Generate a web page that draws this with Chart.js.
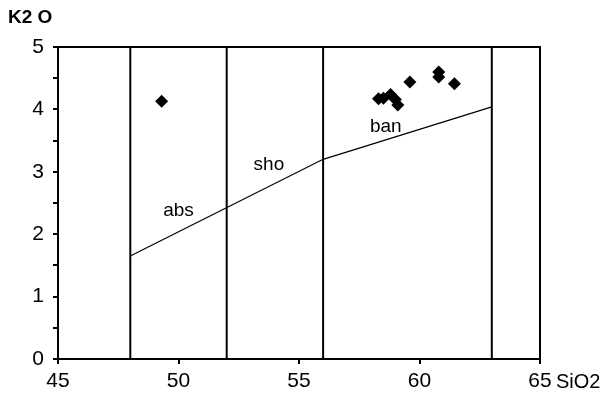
<!DOCTYPE html>
<html>
<head>
<meta charset="utf-8">
<script src="https://cdn.jsdelivr.net/npm/chart.js@4/dist/chart.umd.min.js"></script>
<style>
html,body{margin:0;padding:0;background:#fff;}
#wrap{width:609px;height:396px;position:relative;}
</style>
</head>
<body>
<div id="wrap"><canvas id="c" width="609" height="396"></canvas></div>
<script>
// Sample data (SiO2 vs K2O)
const sio2 = [49.3, 58.3, 58.5, 58.8, 59.0, 59.1, 59.6, 60.8, 60.8, 61.45];
const k2o  = [4.13, 4.17, 4.18, 4.24, 4.16, 4.07, 4.44, 4.60, 4.52, 4.41];

// Field boundaries
const verticalX = [48, 52, 56, 63];
const boundaryX = [48, 56, 63];
const boundaryY = [1.65, 3.2, 4.04];

// Field names
const fieldNames = ['abs', 'sho', 'ban'];
const fieldX = [50.0, 53.75, 58.6];
const fieldY = [2.38, 3.12, 3.72];

const xTicks = [45, 50, 55, 60, 65];
const yTicks = [0, 1, 2, 3, 4, 5];

const FONT = 'Liberation Sans, Arial, sans-serif';

const datasets = [];
verticalX.forEach(v => datasets.push({
  type: 'line', data: [{x: v, y: 0}, {x: v, y: 5}],
  borderColor: '#000', borderWidth: 2, pointRadius: 0, fill: false
}));
datasets.push({
  type: 'line', data: boundaryX.map((x, i) => ({x, y: boundaryY[i]})),
  borderColor: '#000', borderWidth: 1.2, pointRadius: 0, fill: false, tension: 0
});
datasets.push({
  type: 'scatter', data: sio2.map((x, i) => ({x, y: k2o[i]})),
  pointStyle: 'rectRot', pointRadius: 6.5, backgroundColor: '#000', borderColor: '#000', borderWidth: 0
});

const extras = {
  id: 'extras',
  afterDraw(chart) {
    const {ctx, chartArea: a, scales} = chart;
    ctx.save();
    ctx.strokeStyle = '#000';
    ctx.lineWidth = 2;
    ctx.beginPath();
    ctx.moveTo(a.left, a.top); ctx.lineTo(a.right, a.top); ctx.lineTo(a.right, a.bottom);
    ctx.stroke();
    ctx.fillStyle = '#000';
    ctx.font = '19px ' + FONT;
    ctx.textAlign = 'center';
    ctx.textBaseline = 'middle';
    fieldNames.forEach((t, i) => {
      ctx.fillText(t, scales.x.getPixelForValue(fieldX[i]), scales.y.getPixelForValue(fieldY[i]));
    });
    ctx.textAlign = 'left';
    ctx.font = '20px ' + FONT;
    ctx.fillText('SiO2', 556, 382);
    ctx.font = 'bold 19px ' + FONT;
    ctx.fillText('K2 O', 8, 18);
    ctx.restore();
  }
};

new Chart(document.getElementById('c'), {
  data: {datasets},
  options: {
    responsive: false,
    animation: false,
    events: [],
    layout: {padding: {top: 47, right: 69, left: 0, bottom: 0}},
    plugins: {legend: {display: false}, tooltip: {enabled: false}},
    scales: {
      x: {
        type: 'linear', min: 45, max: 65,
        afterBuildTicks: s => { s.ticks = xTicks.map(v => ({value: v})); },
        afterFit: s => { s.height = 37; },
        ticks: {color: '#000', font: {size: 21, family: FONT}, padding: 5},
        grid: {drawOnChartArea: false, tickLength: 5, color: '#000', lineWidth: 2},
        border: {color: '#000', width: 2}
      },
      y: {
        type: 'linear', min: 0, max: 5,
        ticks: {stepSize: 0.5, color: '#000', font: {size: 21, family: FONT}, padding: 9,
          callback: v => (yTicks.includes(v) ? String(v) : '')},
        afterFit: s => { s.width = 58; },
        grid: {drawOnChartArea: false, tickLength: 5, color: '#000', lineWidth: 2},
        border: {color: '#000', width: 2}
      }
    }
  },
  plugins: [extras]
});
</script>
</body>
</html>
